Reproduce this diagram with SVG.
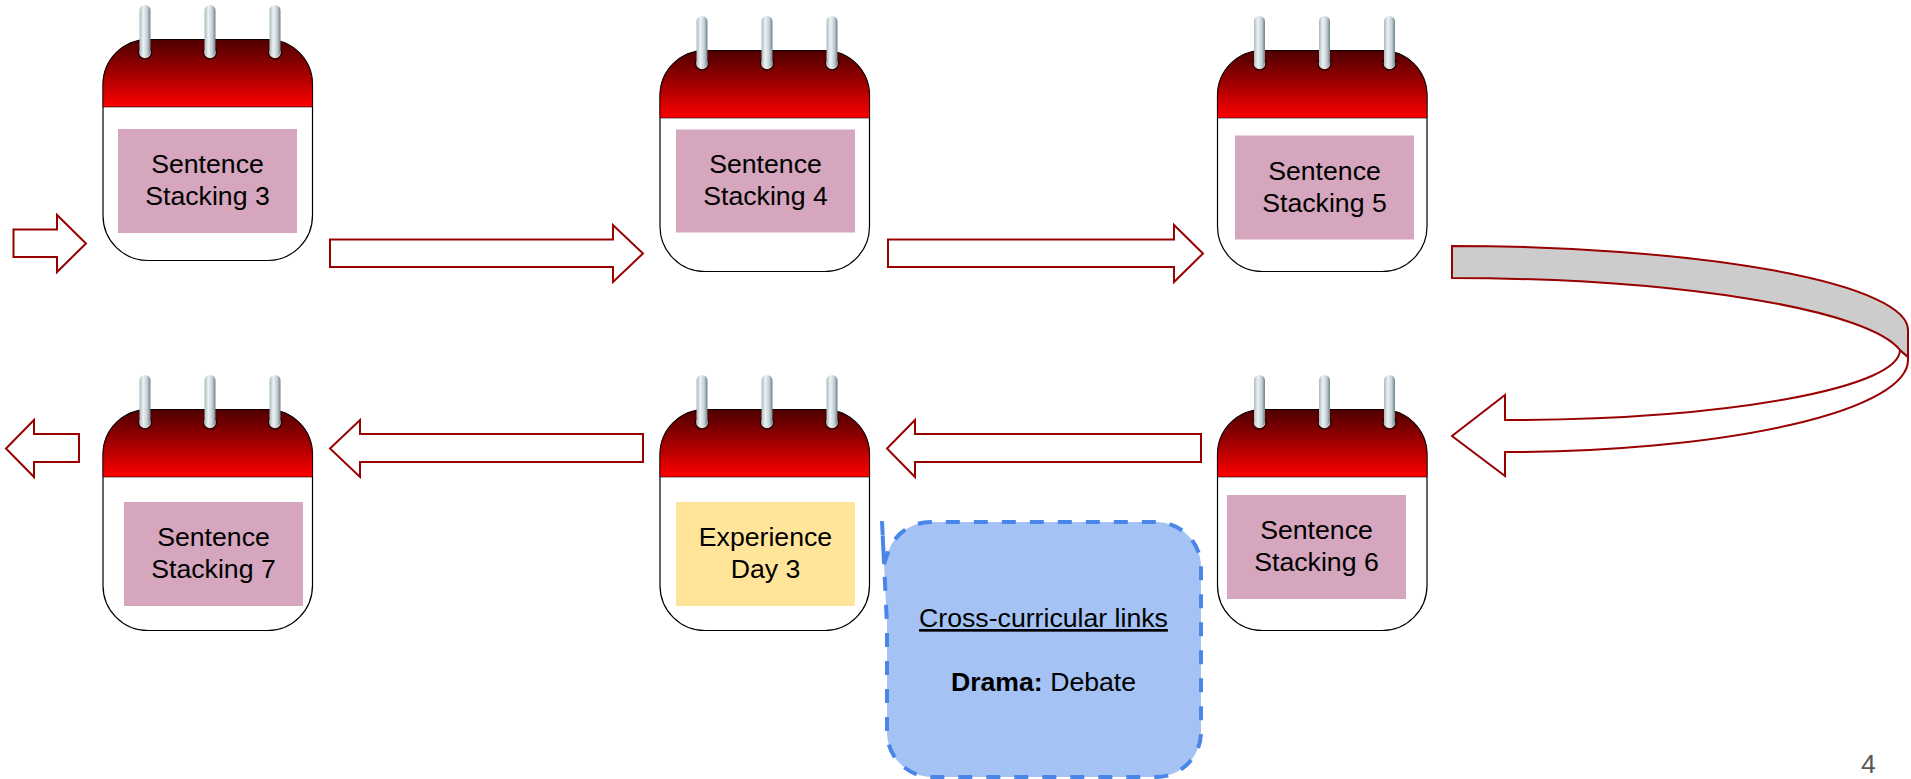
<svg xmlns="http://www.w3.org/2000/svg" xmlns:xlink="http://www.w3.org/1999/xlink" width="1911" height="779" viewBox="0 0 1911 779">
<style>
text{font-family:"Liberation Sans",Arial,sans-serif;font-size:26.67px;fill:#000;text-anchor:middle}
.a{fill:#fff;stroke:#990000;stroke-width:2}
.pink{fill:#d5a6bd}
.yellow{fill:#ffe599}
.hole{fill:#e8d8d8;stroke:#2a0000;stroke-width:1.5}
.ring{fill:url(#ring)}
</style>
<defs>
<linearGradient id="red" x1="0" y1="0" x2="0" y2="1"><stop offset="0" stop-color="#4d0000"/><stop offset="0.45" stop-color="#990000"/><stop offset="1" stop-color="#ff0000"/></linearGradient>
<linearGradient id="ring" x1="0" y1="0" x2="1" y2="0"><stop offset="0" stop-color="#a9bac1"/><stop offset="0.35" stop-color="#eef2f3"/><stop offset="0.7" stop-color="#c3cfd4"/><stop offset="1" stop-color="#6f828a"/></linearGradient>
<g id="cal">
<rect x="0" y="0.5" width="209.5" height="221" rx="45" fill="#fff" stroke="#000" stroke-width="1.2"/>
<path d="M0 68V45.5A45 45 0 0 1 45 .5H164.5A45 45 0 0 1 209.5 45.5V68Z" fill="url(#red)" stroke="#000" stroke-width="0.6"/>
<circle class="hole" cx="42" cy="13.5" r="6.5"/><circle class="hole" cx="107" cy="13.5" r="6.5"/><circle class="hole" cx="172" cy="13.5" r="6.5"/>
<rect class="ring" x="36.5" y="-34" width="11" height="52" rx="5.5"/><rect class="ring" x="101.5" y="-34" width="11" height="52" rx="5.5"/><rect class="ring" x="166.5" y="-34" width="11" height="52" rx="5.5"/>
</g>
</defs>
<rect width="1911" height="779" fill="#fff"/>
<g id="connectors">
<path class="a" d="M13.5 229.5H57V215L86 243.5L57 272V257H13.5Z"/>
<path class="a" d="M330 239.5H613V225L643 253.5L613 282V267H330Z"/>
<path class="a" d="M888 239.5H1174V225L1203 253.5L1174 282V267H888Z"/>
<path class="a" d="M1201 434H915V420L887 448.5L915 477V462H1201Z"/>
<path class="a" d="M643 434H360V420L330 448.5L360 477V462H643Z"/>
<path class="a" d="M79 434H34V420L6 448.5L34 477V462H79Z"/>
<path class="a" d="M1908 360A403 92 0 0 1 1505 452V476L1452 436L1505 395V420A395 70 0 0 0 1900 350L1908 357Z"/>
<path d="M1452 246A456 84 0 0 1 1908 330V357L1900 350A456 84 0 0 0 1452 278Z" fill="#cccccc" stroke="#990000" stroke-width="2"/>
</g>
<g id="cal1"><use href="#cal" x="103" y="39"/><rect class="pink" x="118" y="129" width="179" height="104"/><text><tspan x="207.5" y="173">Sentence</tspan><tspan x="207.5" y="205">Stacking 3</tspan></text></g>
<g id="cal2"><use href="#cal" x="660" y="50"/><rect class="pink" x="676" y="129.5" width="179" height="103"/><text><tspan x="765.5" y="173">Sentence</tspan><tspan x="765.5" y="205">Stacking 4</tspan></text></g>
<g id="cal3"><use href="#cal" x="1217.5" y="50"/><rect class="pink" x="1235" y="135.5" width="179" height="104"/><text><tspan x="1324.5" y="180">Sentence</tspan><tspan x="1324.5" y="212">Stacking 5</tspan></text></g>
<g id="cal4"><use href="#cal" x="1217.5" y="409"/><rect class="pink" x="1227" y="495" width="179" height="104"/><text><tspan x="1316.5" y="539">Sentence</tspan><tspan x="1316.5" y="571">Stacking 6</tspan></text></g>
<g id="cal5"><use href="#cal" x="660" y="409"/><rect class="yellow" x="676" y="502" width="179" height="104"/><text><tspan x="765.5" y="546">Experience</tspan><tspan x="765.5" y="578">Day 3</tspan></text></g>
<g id="cal6"><use href="#cal" x="103" y="409"/><rect class="pink" x="124" y="502" width="179" height="104"/><text><tspan x="213.5" y="546">Sentence</tspan><tspan x="213.5" y="578">Stacking 7</tspan></text></g>
<g id="note">
<path d="M882 521L887 625V732A45 45 0 0 0 932 777H1156A45 45 0 0 0 1201 732V567A45 45 0 0 0 1156 522H932A45 45 0 0 0 888 552L884 564Z" fill="#a4c2f4" stroke="#4a86e8" stroke-width="4" stroke-dasharray="14 14"/>
<text x="1043.5" y="627" text-decoration="underline">Cross-curricular links</text>
<text x="1043.5" y="691"><tspan font-weight="bold">Drama:</tspan> Debate</text>
</g>
<text id="page" x="1868.5" y="772.5" style="fill:#595959">4</text>
</svg>
